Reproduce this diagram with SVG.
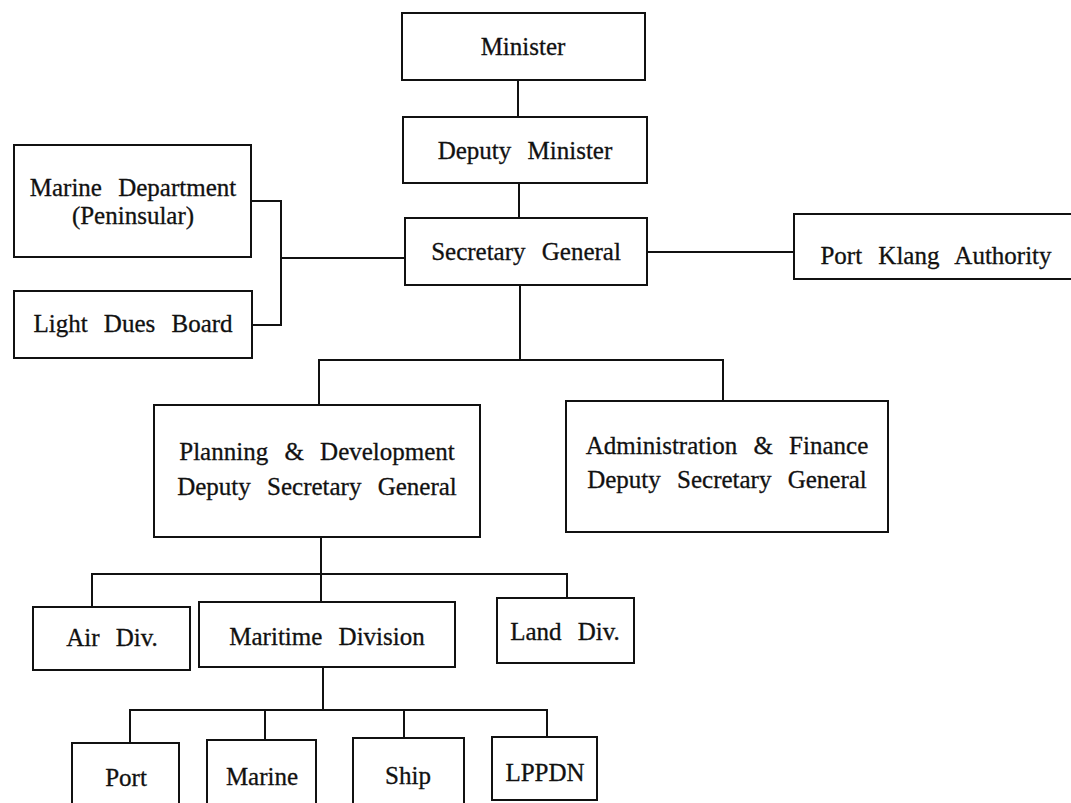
<svg xmlns="http://www.w3.org/2000/svg" width="1071" height="803" viewBox="0 0 1071 803">
<style>
.box{fill:#fff;stroke:#111;stroke-width:2}
.ln{fill:none;stroke:#111;stroke-width:2}
text{font-family:"Liberation Serif","Times New Roman",serif;font-size:25px;fill:#111;stroke:#111;stroke-width:0.3;text-anchor:middle;word-spacing:10px}
</style>
<rect width="1071" height="803" fill="#fff"/>
<g id="connectors">
<path class="ln" d="M518 80V117"/>
<path class="ln" d="M519 183V218"/>
<path class="ln" d="M251 201H281V325H252"/>
<path class="ln" d="M281 258H405"/>
<path class="ln" d="M647 252H794"/>
<path class="ln" d="M520 285V360"/>
<path class="ln" d="M319 405V360H723V401"/>
<path class="ln" d="M321 537V602"/>
<path class="ln" d="M92 607V574H567V598"/>
<path class="ln" d="M323 667V710"/>
<path class="ln" d="M130 743V710H547V737"/>
<path class="ln" d="M265 710V740"/>
<path class="ln" d="M404 710V738"/>
</g>
<g id="minister"><rect class="box" x="402" y="13" width="243" height="67"/><text x="523" y="55">Minister</text></g>
<g id="deputy-minister"><rect class="box" x="403" y="117" width="244" height="66"/><text x="525" y="159">Deputy Minister</text></g>
<g id="secretary-general"><rect class="box" x="405" y="218" width="242" height="67"/><text x="526" y="260">Secretary General</text></g>
<g id="marine-department"><rect class="box" x="14" y="145" width="237" height="112"/><text x="133" y="196">Marine Department</text><text x="133" y="224">(Peninsular)</text></g>
<g id="light-dues-board"><rect class="box" x="14" y="291" width="238" height="67"/><text x="133" y="332">Light Dues Board</text></g>
<g id="port-klang-authority"><rect class="box" x="794" y="214" width="290" height="65"/><text x="936" y="264">Port Klang Authority</text></g>
<g id="planning-development"><rect class="box" x="154" y="405" width="326" height="132"/><text x="317" y="460">Planning &amp; Development</text><text x="317" y="495">Deputy Secretary General</text></g>
<g id="administration-finance"><rect class="box" x="566" y="401" width="322" height="131"/><text x="727" y="454">Administration &amp; Finance</text><text x="727" y="488">Deputy Secretary General</text></g>
<g id="air-div"><rect class="box" x="33" y="607" width="157" height="63"/><text x="112" y="646">Air Div.</text></g>
<g id="maritime-division"><rect class="box" x="199" y="602" width="256" height="65"/><text x="327" y="645">Maritime Division</text></g>
<g id="land-div"><rect class="box" x="497" y="598" width="137" height="65"/><text x="565" y="640">Land Div.</text></g>
<g id="port"><rect class="box" x="72" y="743" width="107" height="70"/><text x="126" y="786">Port</text></g>
<g id="marine"><rect class="box" x="207" y="740" width="109" height="73"/><text x="262" y="785">Marine</text></g>
<g id="ship"><rect class="box" x="353" y="738" width="111" height="75"/><text x="408" y="784">Ship</text></g>
<g id="lppdn"><rect class="box" x="492" y="737" width="105" height="63"/><text x="545" y="781">LPPDN</text></g>
</svg>
